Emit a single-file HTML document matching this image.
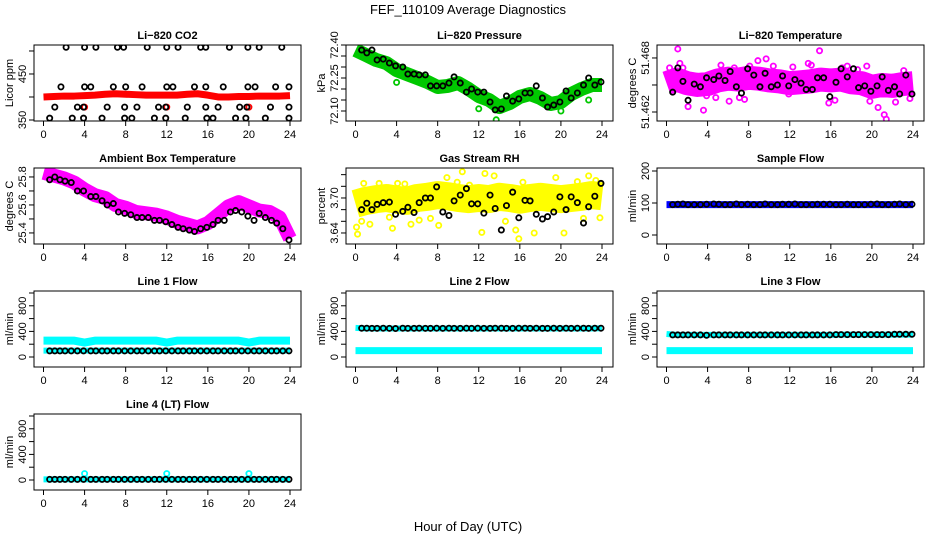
<!DOCTYPE html>
<html><head><meta charset="utf-8"><style>
body{margin:0;background:#fff}
svg{display:block;font-family:"Liberation Sans",sans-serif}
</style></head><body>
<svg id="c" width="936" height="540" viewBox="0 0 936 540">
<defs id="defs"></defs>
<text x="468" y="14" text-anchor="middle" font-size="13">FEF_110109  Average Diagnostics</text>
<text x="468" y="531" text-anchor="middle" font-size="13">Hour of Day (UTC)</text>
</svg>
<script>
const xTicks=[0,4,8,12,16,20,24];
const hours=[0,1,2,3,4,5,6,7,8,9,10,11,12,13,14,15,16,17,18,19,20,21,22,23,24];
const blackT=[0.6,1.1,1.6,2.1,2.7,3.3,3.9,4.6,5.1,5.7,6.2,6.8,7.3,7.9,8.5,9.1,9.6,10.2,10.8,11.3,11.9,12.5,13.1,13.6,14.2,14.7,15.3,15.9,16.5,17.0,17.6,18.2,18.7,19.3,19.9,20.5,21.0,21.6,22.2,22.7,23.3,23.9];
// CO2
const co2Band=[400,401,402,402,403,404,406,407,406,405,404,404,404,404,406,407,404,400,400,401,401,402,402,402,403];
const co2T=[2.2,4,5.1,7.2,7.8,10.1,12,13.1,15.3,15.8,18.1,19.9,21,23.2,1.7,4,4.6,6.8,8,9.6,12,12.6,14.7,15.8,17.5,19.9,20.6,22.6,23.9,1.1,3.3,3.9,6.2,7.9,9.1,11.2,11.9,14,15.8,17,19.1,19.8,22.1,23.9,0.6,2.8,3.9,5.7,7.9,8.6,10.8,11.9,13.8,15.9,16.5,18.7,19.7,21.6,23.9];
const co2V=[508,508,508,508,508,508,508,508,508,508,508,508,508,508,422,422,422,422,422,422,422,422,422,422,422,422,422,422,422,378,378,378,378,378,378,378,378,378,378,378,378,378,378,378,354,354,354,354,354,354,354,354,354,354,354,354,354,354,354];
const co2RedT=[4,12,20];
const co2RedV=[378,378,378];
// Pressure
const presBand=[72.377,72.355,72.332,72.318,72.286,72.268,72.25,72.232,72.209,72.214,72.227,72.2,72.168,72.15,72.118,72.136,72.164,72.177,72.159,72.132,72.141,72.177,72.2,72.218,72.218];
const presBlack=[72.377,72.364,72.377,72.332,72.336,72.318,72.305,72.300,72.268,72.268,72.264,72.264,72.214,72.214,72.214,72.227,72.255,72.227,72.186,72.200,72.186,72.186,72.141,72.105,72.109,72.168,72.145,72.155,72.182,72.182,72.214,72.159,72.118,72.127,72.141,72.191,72.159,72.182,72.218,72.250,72.218,72.232];
const presOutT=[4,12,13.7,20,22.7];
const presOutV=[72.23,72.11,72.06,72.10,72.15];
// Li-820 temperature
const tempBand=[51.4652,51.4656,51.4652,51.4650,51.4651,51.4655,51.4657,51.4656,51.4658,51.4657,51.4655,51.4654,51.4652,51.4653,51.4654,51.4656,51.4655,51.4656,51.4653,51.4652,51.4648,51.4650,51.4649,51.4651,51.4652];
const tempBlack=[51.4642,51.4669,51.4654,51.4633,51.4651,51.4648,51.4658,51.4656,51.4660,51.4655,51.4665,51.4648,51.4641,51.4668,51.4661,51.4648,51.4663,51.4648,51.4650,51.4660,51.4649,51.4656,51.4652,51.4645,51.4645,51.4658,51.4658,51.4637,51.4653,51.4668,51.4659,51.4668,51.4647,51.4649,51.4643,51.4649,51.4659,51.4644,51.4648,51.4640,51.4661,51.4640];
const tempOutT=[0.3,0.8,1.1,1.3,1.6,2.1,2.5,3.6,3.9,4.8,5.3,6.1,6.6,7.1,7.6,8.1,8.9,9.7,10.4,11.9,12.3,13.8,14.1,14.9,15.8,16.4,17.1,17.6,18.6,19.5,19.8,20.6,21.2,21.4,22.3,23.1,23.7];
const tempOutV=[51.4669,51.4663,51.4690,51.4674,51.4669,51.4626,51.4643,51.4622,51.4638,51.4636,51.4672,51.4632,51.4669,51.4636,51.4634,51.4671,51.4677,51.4679,51.4671,51.4640,51.4670,51.4674,51.4672,51.4688,51.4630,51.4633,51.4669,51.4671,51.4667,51.4671,51.4632,51.4625,51.4617,51.4612,51.4631,51.4666,51.4635];
// Ambient box temperature
const ambBand=[25.83,25.81,25.79,25.76,25.71,25.67,25.65,25.60,25.58,25.55,25.54,25.53,25.51,25.48,25.46,25.44,25.47,25.53,25.59,25.62,25.59,25.56,25.55,25.51,25.36];
const ambBlack=[25.78,25.80,25.78,25.77,25.76,25.70,25.70,25.66,25.66,25.63,25.60,25.61,25.55,25.54,25.53,25.51,25.51,25.51,25.49,25.49,25.48,25.46,25.44,25.43,25.42,25.41,25.43,25.44,25.46,25.49,25.49,25.55,25.56,25.55,25.52,25.49,25.54,25.51,25.49,25.47,25.43,25.35];
// Gas stream RH
const rhBand=[3.690,3.695,3.698,3.700,3.697,3.695,3.700,3.702,3.705,3.703,3.700,3.698,3.700,3.698,3.702,3.700,3.697,3.700,3.702,3.700,3.698,3.700,3.702,3.705,3.703];
const rhBlack=[3.680,3.691,3.680,3.689,3.692,3.693,3.672,3.677,3.684,3.675,3.692,3.700,3.700,3.719,3.676,3.670,3.695,3.705,3.716,3.690,3.690,3.674,3.705,3.682,3.645,3.687,3.710,3.666,3.696,3.695,3.672,3.664,3.668,3.676,3.702,3.680,3.702,3.692,3.657,3.685,3.703,3.725];
const rhOutT=[0.1,0.2,0.6,0.8,1.4,2.3,3.3,3.6,4.1,4.8,5.4,6.2,7.3,8.1,8.3,8.9,9.9,10.4,11.1,12.3,12.6,13.5,14.6,15.6,15.9,16.3,17.4,18.0,19.5,20.3,21.6,22.2,22.7,23.4,23.8];
const rhOutV=[3.650,3.638,3.660,3.725,3.655,3.725,3.667,3.648,3.725,3.724,3.655,3.662,3.665,3.653,3.700,3.735,3.727,3.745,3.722,3.641,3.742,3.738,3.660,3.645,3.630,3.727,3.640,3.720,3.735,3.640,3.728,3.665,3.738,3.730,3.666];
// Sample flow
const sampBand=[95,95,95,95,95,95,95,95,95,95,95,95,95,95,95,95,95,95,95,95,95,95,95,95,95];
const sampBlack=[95,96,97,95,95,95,96,97,96,95,95,97,95,96,95,95,97,95,95,96,96,97,95,95,95,96,96,96,95,95,96,95,95,95,96,97,95,95,96,97,95,96];
// Flows
const l1Cyan=[255,255,255,255,225,255,255,255,255,255,255,255,225,255,255,255,255,255,255,255,225,255,255,255,255];
const l1Low=[100,100,100,100,100,100,100,100,100,100,100,100,100,100,100,100,100,100,100,100,100,100,100,100,100];
const l1Black=[95,95,95,95,95,95,95,95,95,95,95,95,95,95,95,95,95,95,95,95,95,95,95,95,95,95,95,95,95,95,95,95,95,95,95,95,95,95,95,95,95,95];
const l2Cyan=[100,100,100,100,100,100,100,100,100,100,100,100,100,100,100,100,100,100,100,100,100,100,100,100,100];
const l2High=[455,445,445,445,445,445,445,445,445,445,445,445,445,445,445,445,445,445,445,445,445,445,445,445,450];
const l2Black=[450,450,448,448,450,448,445,450,448,448,450,448,448,450,448,450,448,448,450,448,450,448,448,450,450,448,448,450,450,448,450,448,448,450,448,450,448,450,450,448,450,450];
const l3Cyan=[100,100,100,100,100,100,100,100,100,100,100,100,100,100,100,100,100,100,100,100,100,100,100,100,100];
const l3High=[360,345,345,345,345,345,345,345,345,345,345,345,345,345,345,345,345,350,350,350,350,350,350,350,350];
const l3Black=[345,345,345,345,345,345,340,345,345,345,345,345,345,345,345,345,345,345,345,345,345,345,345,345,345,345,345,345,350,350,350,350,350,350,350,350,350,350,355,355,355,355];
const l4Cyan=[10,10,10,10,10,10,10,10,10,10,10,10,10,10,10,10,10,10,10,10,10,10,10,10,10];
const l4SpikeT=[4,12,20];
const l4SpikeV=[100,100,100];
const l4Black=[10,10,10,10,10,10,10,10,10,10,10,10,10,10,10,10,10,10,10,10,10,10,10,10,10,10,10,10,10,10,10,10,10,10,10,10,10,10,10,10,10,10];

const svg=document.getElementById('c');
const defs=document.getElementById('defs');
const NS='http://www.w3.org/2000/svg';
const W=267,Hh=76;
let clipN=0;
function mk(tag,attrs,parent){const e=document.createElementNS(NS,tag);for(const k in attrs)e.setAttribute(k,attrs[k]);(parent||svg).appendChild(e);return e;}

function panel(name,L,T,ymin,ymax,yTicks,yLabels,title,ylab){
  const g=mk('g',{});
  
  
  const p={L,T,ymin,ymax,g,
    x:t=>L+9.5+t*246.5/24,
    y:v=>T+Hh-(v-ymin)/(ymax-ymin)*Hh};
  const t=mk('text',{x:L+W/2,y:T-6,'text-anchor':'middle','font-size':11,'font-weight':'bold'},g);
  t.textContent=title;
  
  
  const yl=mk('text',{transform:`translate(${L-21},${T+Hh/2}) rotate(-90)`,'text-anchor':'middle','font-size':11},g);
  yl.textContent=ylab;
  
  
  for(const tk of xTicks){
    const xx=p.x(tk);
    mk('line',{x1:xx,x2:xx,y1:T+Hh,y2:T+Hh+5,stroke:'#000'},g);
    const lb=mk('text',{x:xx,y:T+Hh+17,'text-anchor':'middle','font-size':11},g);
    lb.textContent=tk;
    
    
  }
  for(const tk of yTicks){
    const yy=p.y(tk);
    mk('line',{x1:L,x2:L-5,y1:yy,y2:yy,stroke:'#000'},g);
  }
  for(let i=0;i<yLabels.length;i++){
    const yy=p.y(yLabels[i].v);
    const lb=mk('text',{transform:`translate(${L-8},${yy}) rotate(-90)`,'text-anchor':'middle','font-size':11},g);
    lb.textContent=yLabels[i].s;
    
    
  }
  const id='clip'+(clipN++);
  const cp=mk('clipPath',{id},defs);
  mk('rect',{x:L,y:T,width:W,height:Hh},cp);
  p.clip=mk('g',{'clip-path':`url(#${id})`},g);
  mk('rect',{x:L,y:T,width:W,height:Hh,fill:'none',stroke:'#000'},g);
  return p;
}
function band(p,ts,vs,color,hw,name){
  const pts=ts.map((t,i)=>p.x(t)+','+p.y(vs[i])).join(' ');
  const pl=mk('polyline',{points:pts,fill:'none',stroke:color,'stroke-width':hw*2,'stroke-linejoin':'round','stroke-linecap':'butt'},p.clip);
  
  
}
function pts(p,ts,vs,color,name,r){
  for(let i=0;i<ts.length;i++){
    const c=mk('circle',{cx:p.x(ts[i]),cy:p.y(vs[i]),r:r||2.6,fill:'none',stroke:color,'stroke-width':1.8},p.clip);
    
    
  }
}
const L1=34,L2=346,L3=657,T1=45,T2=168,T3=291,T4=414;
const lab=(a)=>a.map(v=>({v,s:String(v)}));
const flowTicks=[0,200,400,600,800,1000];

let p=panel('co2',L1,T1,347.8,513,[350,400,450,500],lab([350,450]),'Li\u2212820 CO2','Licor ppm');
band(p,hours,co2Band,'#ff0000',3.5,'co2-band');
pts(p,co2RedT,co2RedV,'#ff0000','co2-red-point');
pts(p,co2T,co2V,'#000','co2-point');

p=panel('pressure',L2,T1,72.0545,72.40,[72.10,72.15,72.20,72.25,72.30,72.35,72.40],[{v:72.10,s:'72.10'},{v:72.25,s:'72.25'},{v:72.40,s:'72.40'}],'Li\u2212820 Pressure','kPa');
band(p,hours,presBand,'#00c800',7,'pressure-band');
pts(p,presOutT,presOutV,'#00c800','pressure-green-point');
pts(p,blackT,presBlack,'#000','pressure-point');

p=panel('li820-temp',L3,T1,51.4610,51.46944,[51.462,51.465,51.468],[{v:51.462,s:'51.462'},{v:51.468,s:'51.468'}],'Li\u2212820 Temperature','degrees C');
band(p,hours,tempBand,'#ff00ff',12,'temp-band');
pts(p,tempOutT,tempOutV,'#ff00ff','temp-magenta-point');
pts(p,blackT,tempBlack,'#000','temp-point');

p=panel('ambient',L1,T2,25.321,25.864,[25.4,25.5,25.6,25.7,25.8],lab([25.4,25.6,25.8]),'Ambient Box Temperature','degrees C');
band(p,hours,ambBand,'#ff00ff',7,'ambient-band');
pts(p,blackT,ambBlack,'#000','ambient-point');

p=panel('rh',L2,T2,3.6211,3.7514,[3.64,3.66,3.68,3.70,3.72,3.74],[{v:3.64,s:'3.64'},{v:3.70,s:'3.70'}],'Gas Stream RH','percent');
band(p,hours,rhBand,'#ffff00',14,'rh-band');
pts(p,rhOutT,rhOutV,'#ffff00','rh-yellow-point');
pts(p,blackT,rhBlack,'#000','rh-point');

p=panel('sample-flow',L3,T2,-28.1,209.4,[0,100,200],lab([0,100,200]),'Sample Flow','ml/min');
band(p,hours,sampBand,'#0000ff',3.5,'sample-band');
pts(p,blackT,sampBlack,'#000','sample-point');

p=panel('line1',L1,T3,-156,1031,flowTicks,lab([0,400,800]),'Line 1 Flow','ml/min');
band(p,hours,l1Cyan,'#00ffff',4,'line1-cyan-band');
band(p,hours,l1Low,'#00ffff',3,'line1-low-band');
pts(p,blackT,l1Black,'#000','line1-point');

p=panel('line2',L2,T3,-156,1031,flowTicks,lab([0,400,800]),'Line 2 Flow','ml/min');
band(p,hours,l2Cyan,'#00ffff',3.5,'line2-cyan-band');
band(p,hours,l2High,'#00ffff',3,'line2-high-band');
pts(p,blackT,l2Black,'#000','line2-point');

p=panel('line3',L3,T3,-156,1031,flowTicks,lab([0,400,800]),'Line 3 Flow','ml/min');
band(p,hours,l3Cyan,'#00ffff',3.5,'line3-cyan-band');
band(p,hours,l3High,'#00ffff',3,'line3-high-band');
pts(p,blackT,l3Black,'#000','line3-point');

p=panel('line4',L1,T4,-156,1031,flowTicks,lab([0,400,800]),'Line 4 (LT) Flow','ml/min');
band(p,hours,l4Cyan,'#00ffff',3,'line4-cyan-band');
pts(p,l4SpikeT,l4SpikeV,'#00ffff','line4-spike-point');
pts(p,blackT,l4Black,'#000','line4-point');
</script>
</body></html>
